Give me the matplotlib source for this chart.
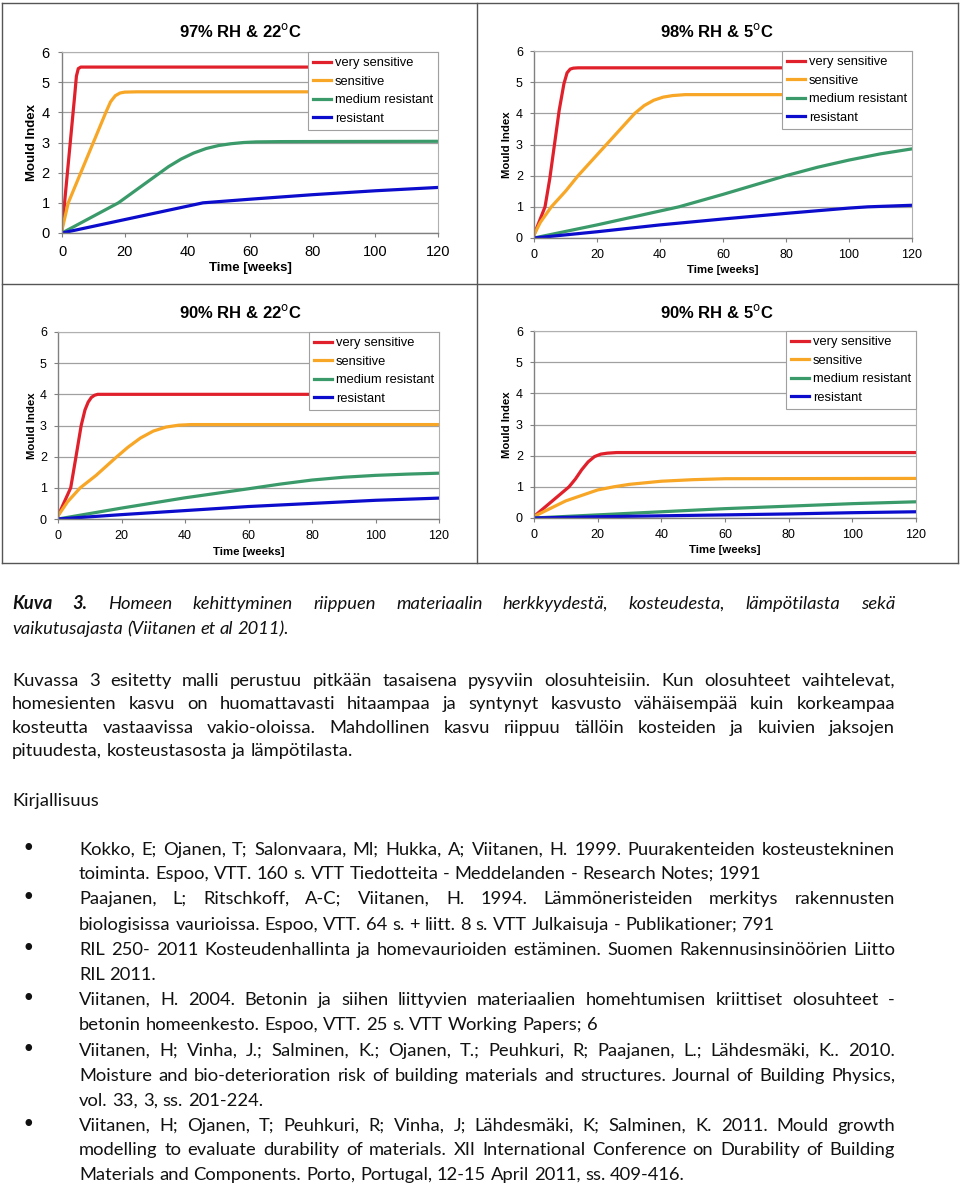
import matplotlib
matplotlib.use('Agg')
from matplotlib import pyplot as plt
from matplotlib import font_manager
from matplotlib.lines import Line2D

# --- chart data ---
labels = ['very sensitive', 'sensitive', 'medium resistant', 'resistant']
colors = ['#e0202a', '#f7a626', '#3a9a6a', '#0c0ccc']
titles = ['97% RH & 22$^{\\rm o}$C', '98% RH & 5$^{\\rm o}$C',
          '90% RH & 22$^{\\rm o}$C', '90% RH & 5$^{\\rm o}$C']
xticks = [0, 20, 40, 60, 80, 100, 120]
yticks = [0, 1, 2, 3, 4, 5, 6]

# 97% RH, 22 C
t_97_vs = [0, 1, 2, 3, 4, 4.6, 5.2, 6, 120]
m_97_vs = [0.1, 1.2, 2.3, 3.4, 4.5, 5.2, 5.45, 5.5, 5.5]
t_97_s = [0, 1, 2, 6, 10, 14, 15.5, 17, 18.5, 20, 24, 120]
m_97_s = [0.1, 0.55, 1.0, 2.0, 3.0, 4.0, 4.35, 4.55, 4.64, 4.67, 4.68, 4.68]
t_97_mr = [0, 18, 22, 26, 30, 34, 38, 42, 46, 50, 54, 58, 62, 70, 120]
m_97_mr = [0, 1.0, 1.3, 1.6, 1.9, 2.2, 2.45, 2.65, 2.8, 2.9, 2.96, 3.0, 3.02, 3.03, 3.04]
t_97_r = [0, 45, 60, 80, 100, 120]
m_97_r = [0, 1.0, 1.12, 1.27, 1.4, 1.51]

# 98% RH, 5 C
t_98_vs = [0, 3.5, 5, 6.5, 8, 9.5, 10.5, 11.5, 12.5, 14, 120]
m_98_vs = [0.1, 1.0, 1.9, 3.0, 4.1, 4.95, 5.3, 5.42, 5.45, 5.46, 5.46]
t_98_s = [0, 2, 5.5, 10, 14, 18.5, 23, 27.5, 32, 35, 38, 41, 44, 48, 52, 120]
m_98_s = [0.1, 0.5, 1.0, 1.5, 2.0, 2.5, 3.0, 3.5, 4.0, 4.25, 4.42, 4.52, 4.57, 4.6, 4.6, 4.6]
t_98_mr = [0, 20, 46, 53, 60, 70, 80, 90, 100, 110, 120]
m_98_mr = [0, 0.42, 1.0, 1.2, 1.4, 1.7, 2.0, 2.27, 2.5, 2.7, 2.86]
t_98_r = [0, 20, 40, 60, 80, 100, 106, 120]
m_98_r = [0, 0.2, 0.42, 0.61, 0.79, 0.96, 1.0, 1.05]

# 90% RH, 22 C
t_90w_vs = [0, 2, 4, 5.5, 7.3, 8.5, 9.5, 10.5, 11.5, 12.5, 120]
m_90w_vs = [0.1, 0.55, 1.0, 1.9, 3.0, 3.5, 3.75, 3.9, 3.97, 4.0, 4.0]
t_90w_s = [0, 3, 7, 12, 18, 22, 26, 30, 34, 38, 42, 120]
m_90w_s = [0.1, 0.55, 1.0, 1.4, 1.95, 2.3, 2.6, 2.82, 2.95, 3.01, 3.03, 3.03]
t_90w_mr = [0, 20, 40, 60, 70, 80, 90, 100, 110, 120]
m_90w_mr = [0, 0.35, 0.68, 0.97, 1.12, 1.25, 1.34, 1.4, 1.44, 1.47]
t_90w_r = [0, 20, 40, 60, 80, 100, 120]
m_90w_r = [0, 0.14, 0.27, 0.4, 0.5, 0.6, 0.67]

# 90% RH, 5 C
t_90c_vs = [0, 11, 13, 15, 17, 19, 21, 23, 26, 120]
m_90c_vs = [0.05, 1.0, 1.25, 1.55, 1.8, 1.97, 2.05, 2.08, 2.1, 2.1]
t_90c_s = [0, 10, 20, 25, 30, 40, 50, 60, 120]
m_90c_s = [0.05, 0.55, 0.9, 1.0, 1.08, 1.18, 1.23, 1.26, 1.27]
t_90c_mr = [0, 20, 40, 60, 80, 100, 120]
m_90c_mr = [0, 0.1, 0.2, 0.3, 0.38, 0.46, 0.52]
t_90c_r = [0, 20, 40, 60, 80, 100, 120]
m_90c_r = [0, 0.04, 0.07, 0.1, 0.13, 0.17, 0.2]

panels = [
    [(t_97_vs, m_97_vs), (t_97_s, m_97_s), (t_97_mr, m_97_mr), (t_97_r, m_97_r)],
    [(t_98_vs, m_98_vs), (t_98_s, m_98_s), (t_98_mr, m_98_mr), (t_98_r, m_98_r)],
    [(t_90w_vs, m_90w_vs), (t_90w_s, m_90w_s), (t_90w_mr, m_90w_mr), (t_90w_r, m_90w_r)],
    [(t_90c_vs, m_90c_vs), (t_90c_s, m_90c_s), (t_90c_mr, m_90c_mr), (t_90c_r, m_90c_r)],
]

# --- text of the page ---
caption = [
    ('Kuva 3. Homeen kehittyminen riippuen materiaalin herkkyydestä, kosteudesta, lämpötilasta sekä', True),
    ('vaikutusajasta (Viitanen et al 2011).', False),
]
paragraph = [
    ('Kuvassa 3 esitetty malli perustuu pitkään tasaisena pysyviin olosuhteisiin. Kun olosuhteet vaihtelevat,', True),
    ('homesienten kasvu on huomattavasti hitaampaa ja syntynyt kasvusto vähäisempää kuin korkeampaa', True),
    ('kosteutta vastaavissa vakio-oloissa. Mahdollinen kasvu riippuu tällöin kosteiden ja kuivien jaksojen', True),
    ('pituudesta, kosteustasosta ja lämpötilasta.', False),
]
heading = 'Kirjallisuus'
references = [
    ['Kokko, E; Ojanen, T; Salonvaara, Ml; Hukka, A; Viitanen, H. 1999. Puurakenteiden kosteustekninen',
     'toiminta. Espoo, VTT. 160 s. VTT Tiedotteita - Meddelanden - Research Notes; 1991'],
    ['Paajanen, L; Ritschkoff, A-C; Viitanen, H. 1994. Lämmöneristeiden merkitys rakennusten',
     'biologisissa vaurioissa. Espoo, VTT. 64 s. + liitt. 8 s. VTT Julkaisuja - Publikationer; 791'],
    ['RIL 250- 2011 Kosteudenhallinta ja homevaurioiden estäminen. Suomen Rakennusinsinöörien Liitto',
     'RIL 2011.'],
    ['Viitanen, H. 2004. Betonin ja siihen liittyvien materiaalien homehtumisen kriittiset olosuhteet -',
     'betonin homeenkesto. Espoo, VTT. 25 s. VTT Working Papers; 6'],
    ['Viitanen, H; Vinha, J.; Salminen, K.; Ojanen, T.; Peuhkuri, R; Paajanen, L.; Lähdesmäki, K.. 2010.',
     'Moisture and bio-deterioration risk of building materials and structures. Journal of Building Physics,',
     'vol. 33, 3, ss. 201-224.'],
    ['Viitanen, H; Ojanen, T; Peuhkuri, R; Vinha, J; Lähdesmäki, K; Salminen, K. 2011. Mould growth',
     'modelling to evaluate durability of materials. XII International Conference on Durability of Building',
     'Materials and Components. Porto, Portugal, 12-15 April 2011, ss. 409-416.'],
]

W, H = 960, 1185
fig = plt.figure(figsize=(W / 100, H / 100), dpi=100)
fig.patch.set_facecolor('white')


def fx(px):
    return px / W


def fy(py):
    return 1 - py / H


chart_font = 'Liberation Sans'
avail = set(f.name for f in font_manager.fontManager.ttflist)
body_font = 'Lato' if 'Lato' in avail else 'Liberation Sans'

# plot area boxes in pixels: left, top, right, bottom
boxes = [(62, 52, 438, 233), (534, 51, 912, 238), (58, 332, 439, 519), (534, 331, 916, 518)]
panel_cx = [240, 717, 240, 717]
title_y = [31, 31, 312, 312]
xlab_y = [268, 270, 552, 550]
ylab_x = [32, 507, 32, 507]
tick_fs = [10.5, 9, 9, 9]
lab_fs = [9.5, 8.2, 8.2, 8.2]

for i, (l, t, r, b) in enumerate(boxes):
    ax = fig.add_axes([fx(l), fy(b), fx(r - l), (b - t) / H])
    for k, (xs, ys) in enumerate(panels[i]):
        ax.plot(xs, ys, color=colors[k], lw=2.3, label=labels[k], solid_joinstyle='round')
    ax.set_xlim(0, 120)
    ax.set_ylim(0, 6)
    ax.set_xticks(xticks)
    ax.set_yticks(yticks)
    ax.grid(axis='y', color='#a0a0a0', lw=0.9)
    ax.set_axisbelow(True)
    for s in ['top', 'right']:
        ax.spines[s].set_color('#b0b0b0')
        ax.spines[s].set_linewidth(0.8)
    for s in ['left', 'bottom']:
        ax.spines[s].set_color('#808080')
        ax.spines[s].set_linewidth(1.0)
    ax.tick_params(axis='both', direction='out', length=3, width=0.8, color='#808080',
                   labelsize=tick_fs[i])
    ax.tick_params(axis='x', pad=6 if i == 0 else 5)
    ax.tick_params(axis='y', pad=6 if i == 0 else 5)
    for lbl in ax.get_xticklabels() + ax.get_yticklabels():
        lbl.set_fontfamily(chart_font)
    leg = ax.legend(loc='upper right', borderaxespad=0, fancybox=False, framealpha=1,
                    edgecolor='#a0a0a0', prop={'family': chart_font, 'size': 9.3},
                    handlelength=1.35, handletextpad=0.3, labelspacing=0.5, borderpad=0.4)
    leg.get_frame().set_linewidth(0.8)
    fig.text(fx(panel_cx[i]), fy(title_y[i]), titles[i], ha='center', va='center',
             fontsize=12, fontweight='bold', family=chart_font)
    fig.text(fx((l + r) / 2), fy(xlab_y[i]), 'Time [weeks]', ha='center', va='center',
             fontsize=lab_fs[i], fontweight='bold', family=chart_font)
    fig.text(fx(ylab_x[i]), fy((t + b) / 2), 'Mould Index', ha='center', va='center',
             rotation=90, fontsize=lab_fs[i], fontweight='bold', family=chart_font)

# panel frames
frame = dict(color='#555555', lw=1.0, transform=fig.transFigure)
for (x0, y0, x1, y1) in [(2, 3, 958, 3), (2, 563, 958, 563), (2, 3, 2, 563),
                         (958, 3, 958, 563), (477, 3, 477, 563), (2, 284, 958, 284)]:
    fig.add_artist(Line2D([fx(x0), fx(x1)], [fy(y0), fy(y1)], **frame))

# --- body text, justified like the page ---
renderer = fig.canvas.get_renderer()


def measure(s, props):
    tt = fig.text(0, 0, s, **props)
    w = tt.get_window_extent(renderer).width
    tt.remove()
    return w


base_props = dict(family=body_font, fontsize=12)
ref_w = measure(references[0][1], base_props)
body_fs = 12 * (758 - 79) / ref_w


def draw_line(text, x0, x1, y, justify, props, bold_words=0):
    words = text.split(' ')
    styles = []
    for j, w in enumerate(words):
        p = dict(props)
        if j < bold_words:
            p['fontweight'] = 'bold'
        styles.append(p)
    widths = [measure(w, p) for w, p in zip(words, styles)]
    if justify and len(words) > 1:
        gap = (x1 - x0 - sum(widths)) / (len(words) - 1)
    else:
        gap = measure('x x', props) - measure('xx', props)
    x = x0
    for w, p, wd in zip(words, styles, widths):
        fig.text(fx(x), fy(y + 6), w, ha='left', va='baseline', **p)
        x += wd + gap


body = dict(family=body_font, fontsize=body_fs, color='#111111')
ital = dict(body, style='italic')

ys = [603, 628]
for (line, just), y in zip(caption, ys):
    draw_line(line, 12, 895, y, just, ital, bold_words=2 if y == 603 else 0)

ys = [680, 703, 727, 750]
for (line, just), y in zip(paragraph, ys):
    draw_line(line, 12, 895, y, just, body)

draw_line(heading, 12, 895, 800, False, body)

ref_y = [849, 873, 898, 924, 949, 974, 999, 1024, 1050, 1075, 1100, 1125, 1149, 1174]
k = 0
for ref in references:
    fig.text(fx(28), fy(ref_y[k] + 6), '\u2022', ha='center', va='baseline',
             family='DejaVu Sans', fontsize=body_fs * 1.25, color='#111111')
    for j, line in enumerate(ref):
        draw_line(line, 79, 895, ref_y[k], j < len(ref) - 1, body)
        k += 1

fig.savefig('out.png', dpi=100, facecolor='white')
